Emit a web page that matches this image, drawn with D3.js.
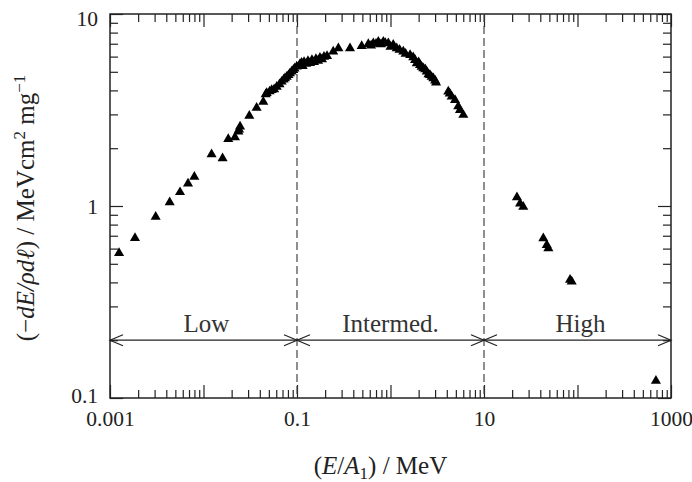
<!DOCTYPE html>
<html><head><meta charset="utf-8">
<script src="https://cdn.jsdelivr.net/npm/d3@7"></script>
<style>
html,body{margin:0;padding:0;background:#fff;}
svg{display:block;font-family:"Liberation Serif","DejaVu Serif",serif;}
</style></head>
<body><svg id="chart" width="692" height="482"></svg>
<script>
// ---- data ----
const lowEnergy = [0.00125,0.00185,0.00308,0.00435,0.00561,0.00683,0.00798,0.0122,0.016,0.0184,0.0217,0.0236,0.0240,0.0246,0.0309,0.037,0.0436,0.0463,0.0474,0.0510,0.0536,0.0570,0.0607,0.0650,0.0686,0.0720,0.0744,0.0776,0.0810,0.0842,0.0878,0.0913,0.0940,0.0993];
const lowStopping = [0.569,0.68,0.879,1.045,1.18,1.31,1.42,1.86,1.77,2.23,2.28,2.44,2.50,2.59,2.95,3.25,3.49,3.82,3.87,3.95,4.02,4.05,4.18,4.30,4.44,4.55,4.62,4.71,4.80,4.91,5.01,5.11,5.20,5.32];
const midEnergy = [0.1076,0.112,0.115,0.119,0.125,0.131,0.138,0.1445,0.152,0.1595,0.168,0.176,0.185,0.1945,0.2095,0.244,0.277,0.369,0.492,0.579,0.62,0.655,0.70,0.741,0.79,0.838,0.88,0.948,1.0,1.07,1.165,1.25,1.37,1.45,1.62,1.75,1.83,1.91,2.0,2.07,2.15,2.24,2.35,2.44,2.55,2.64,2.75,2.87,3.0,3.07,4.15,4.3,4.51,4.90,5.3,5.53,6.01];
const midStopping = [5.49,5.57,5.35,5.62,5.50,5.69,5.55,5.76,5.62,5.83,5.70,5.91,5.80,5.98,6.04,6.37,6.63,6.63,6.81,6.98,6.85,7.03,7.00,7.17,6.95,7.17,7.05,7.03,6.75,6.90,6.63,6.50,6.37,6.20,6.11,5.95,5.76,5.54,5.60,5.42,5.30,5.21,5.15,5.01,4.85,4.81,4.70,4.62,4.50,4.39,3.94,3.85,3.71,3.56,3.30,3.16,2.98];
const highEnergy = [22.5,24.3,26.3,43.1,46.9,48.8,83.2,86.7,690];
const highStopping = [1.11,1.03,0.99,0.679,0.626,0.602,0.412,0.404,0.123];
const xMajorTicks = [0.001,0.01,0.1,1,10,100,1000];
const xTickLabels = ["0.001","","0.1","","10","","1000"];
const yMajorTicks = [0.1,1,10];
const yTickLabels = ["0.1","1","10"];
const regionBounds = [[0.001,0.1],[0.1,10],[10,1000]];
const regionLabels = ["Low","Intermed.","High"];
const regionLevel = 0.2;
const dividers = [0.1,10];

// ---- layout ----
const L = 110, R = 671, T = 14, B = 398;
const ink = "#222";
const svg = d3.select("#chart");
const x = d3.scaleLog().domain([0.001,1000]).range([L,R]);
const y = d3.scaleLog().domain([0.1,10]).range([B,T]);

const isMajor = v => Math.abs(Math.log10(v) - Math.round(Math.log10(v))) < 1e-9;
const xMinor = x.ticks().filter(v => !isMajor(v));
const yMinor = y.ticks().filter(v => !isMajor(v));
const majLen = 13, minLen = 8;

function styleAxis(g){
  g.select(".domain").remove();
  g.selectAll(".tick line").attr("stroke", ink).attr("stroke-width", 1.2);
  g.selectAll("text").attr("fill", ink).attr("font-size", 21.5)
   .attr("font-family", "'Liberation Serif',serif");
}
// bottom
svg.append("g").attr("transform",`translate(0,${B})`)
  .call(d3.axisBottom(x).tickValues(xMajorTicks).tickSize(-majLen).tickPadding(13)
    .tickFormat((d,i)=>xTickLabels[i])).call(styleAxis);
svg.append("g").attr("transform",`translate(0,${B})`)
  .call(d3.axisBottom(x).tickValues(xMinor).tickSize(-minLen).tickFormat("")).call(styleAxis);
// top
svg.append("g").attr("transform",`translate(0,${T})`)
  .call(d3.axisTop(x).tickValues(xMajorTicks).tickSize(-majLen).tickFormat("")).call(styleAxis);
svg.append("g").attr("transform",`translate(0,${T})`)
  .call(d3.axisTop(x).tickValues(xMinor).tickSize(-minLen).tickFormat("")).call(styleAxis);
// left
const gl = svg.append("g").attr("transform",`translate(${L},0)`)
  .call(d3.axisLeft(y).tickValues(yMajorTicks).tickSize(-majLen).tickPadding(12)
    .tickFormat((d,i)=>yTickLabels[i])).call(styleAxis);
gl.selectAll(".tick text").attr("dy", (d)=> d===0.1 ? "0.22em" : (d===10 ? "0.55em" : "0.35em"));
svg.append("g").attr("transform",`translate(${L},0)`)
  .call(d3.axisLeft(y).tickValues(yMinor).tickSize(-minLen).tickFormat("")).call(styleAxis);
// right
svg.append("g").attr("transform",`translate(${R},0)`)
  .call(d3.axisRight(y).tickValues(yMajorTicks).tickSize(-majLen).tickFormat("")).call(styleAxis);
svg.append("g").attr("transform",`translate(${R},0)`)
  .call(d3.axisRight(y).tickValues(yMinor).tickSize(-minLen).tickFormat("")).call(styleAxis);

// frame
svg.append("rect").attr("x",L).attr("y",T).attr("width",R-L).attr("height",B-T)
  .attr("fill","none").attr("stroke",ink).attr("stroke-width",1.5);

// dividers
svg.selectAll("line.div").data(dividers).enter().append("line")
  .attr("x1",d=>x(d)).attr("x2",d=>x(d)).attr("y1",T).attr("y2",B)
  .attr("stroke","#444").attr("stroke-width",1.2).attr("stroke-dasharray","8,4");

// region arrows
const ay = y(regionLevel);
const ah = 13, aw = 5.5;
regionBounds.forEach((b,i)=>{
  const x0 = x(b[0]), x1 = x(b[1]);
  const g = svg.append("g").attr("stroke",ink).attr("stroke-width",1.2).attr("fill","none");
  g.append("line").attr("x1",x0).attr("x2",x1).attr("y1",ay).attr("y2",ay);
  g.append("path").attr("d",`M${x0+ah},${ay-aw}L${x0},${ay}L${x0+ah},${ay+aw}`);
  g.append("path").attr("d",`M${x1-ah},${ay-aw}L${x1},${ay}L${x1-ah},${ay+aw}`);
  svg.append("text").attr("x", x(Math.sqrt(b[0]*b[1])) + (i===1?0:3))
    .attr("y",ay-8).attr("text-anchor","middle").attr("font-size",25).attr("fill","#333")
    .text(regionLabels[i]);
});

// points
const tri = d3.symbol().type(d3.symbolTriangle).size(44);
function plot(xs, ys){
  svg.append("g").selectAll("path").data(xs.map((v,i)=>[v,ys[i]])).enter().append("path")
    .attr("d",tri).attr("fill","#000")
    .attr("transform",d=>`translate(${x(d[0])},${y(d[1])})`);
}
plot(lowEnergy, lowStopping);
plot(midEnergy, midStopping);
plot(highEnergy, highStopping);

// axis titles
const xt = svg.append("text").attr("x",(L+R)/2-10).attr("y",474).attr("text-anchor","middle")
  .attr("font-size",25).attr("fill",ink);
xt.append("tspan").text("(");
xt.append("tspan").attr("font-style","italic").text("E");
xt.append("tspan").text("/");
xt.append("tspan").attr("font-style","italic").text("A");
xt.append("tspan").attr("font-size",17).attr("dy",5).text("1");
xt.append("tspan").attr("dy",-5).text(") / MeV");

const yt = svg.append("text").attr("transform","translate(34,208) rotate(-90)")
  .attr("text-anchor","middle").attr("font-size",25).attr("fill",ink);
yt.append("tspan").text("(\u2212");
yt.append("tspan").attr("font-style","italic").text("dE/\u03C1d\u2113");
yt.append("tspan").text(") / MeVcm");
yt.append("tspan").attr("font-size",17).attr("dy",-9).text("2");
yt.append("tspan").attr("dy",9).text(" mg");
yt.append("tspan").attr("font-size",17).attr("dy",-9).text("\u22121");
</script></body></html>
